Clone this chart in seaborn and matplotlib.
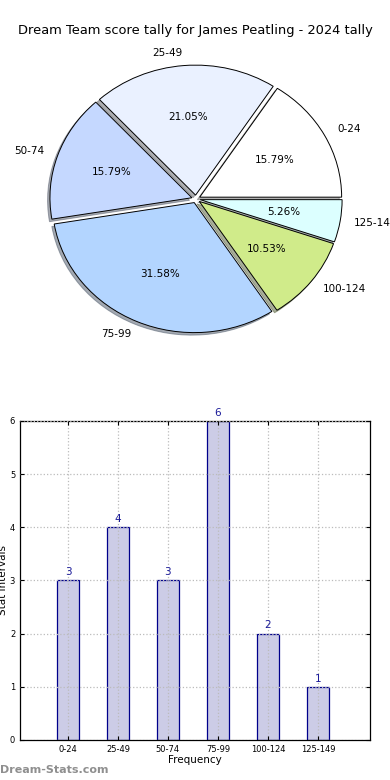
import matplotlib
matplotlib.use("Agg")
import matplotlib.pyplot as plt
import seaborn as sns
import pandas as pd

# score intervals and how many games fell into each
intervals = ["0-24", "25-49", "50-74", "75-99", "100-124", "125-149"]
counts = [3, 4, 3, 6, 2, 1]
pie_colors = ["#ffffff", "#eaf1ff", "#c5d8ff", "#b3d5ff", "#d0eb8a", "#dcffff"]

df = pd.DataFrame({"Interval": intervals, "Count": counts})

fig = plt.figure(figsize=(3.9, 7.8), dpi=100)

# Pie (old-style, not forced to a circle)
ax1 = fig.add_axes([0.0474, 0.5365, 0.910, 0.4167])
ax1.pie(df["Count"], labels=df["Interval"], colors=pie_colors,
        explode=[0.03] * len(counts), autopct="%.2f%%",
        shadow={"ox": -0.012, "oy": -0.014, "shade": 0.6},
        startangle=0, labeldistance=1.1, pctdistance=0.6,
        wedgeprops={"edgecolor": "black", "linewidth": 0.7},
        textprops={"fontsize": 7.5})
ax1.set_aspect("auto")
ax1.set_xlim(-1.25, 1.25)
ax1.set_ylim(-1.25, 1.25)
fig.text(0.5, 0.961, "Dream Team score tally for James Peatling - 2024 tally",
         ha="center", va="center", fontsize=9.4)

# Bars
ax2 = fig.add_axes([0.0513, 0.0513, 0.897, 0.409])
sns.barplot(data=df, x="Interval", y="Count", ax=ax2, width=0.45,
            color="#ccccE6", edgecolor="#00008b", linewidth=0.9, saturation=1)
for i, c in enumerate(counts):
    ax2.text(i, c + 0.06, str(c), ha="center", va="bottom",
             color="#1a1a99", fontsize=7.5)
ax2.set_xlim(-0.96, 6.04)
ax2.set_ylim(0, 6)
ax2.set_yticks(range(0, 7))
ax2.grid(True, linestyle=":", color="#bbbbbb", linewidth=0.9)
ax2.set_axisbelow(False)
ax2.tick_params(labelsize=6, direction="in", length=3, top=True, right=True)
ax2.set_xlabel("Frequency", fontsize=7.5, labelpad=1)
ax2.set_ylabel("Stat Intervals", fontsize=7.5, labelpad=1)
for s in ax2.spines.values():
    s.set_linewidth(0.9)

fig.text(0.0, 0.013, "Dream-Stats.com", color="#8f8f8f", fontsize=8,
         fontweight="semibold", ha="left", va="center")

fig.savefig("out.png", dpi=100)
